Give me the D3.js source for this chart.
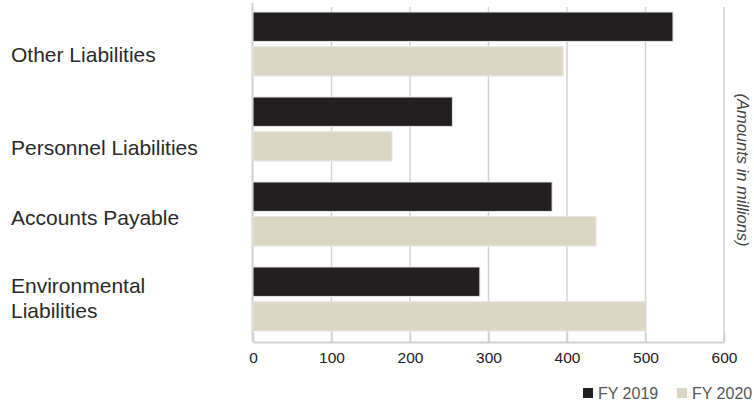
<!DOCTYPE html>
<html>
<head>
<meta charset="utf-8">
<script src="https://cdn.jsdelivr.net/npm/d3@7"></script>
<style>
  body { margin: 0; background: #fff; }
  text { font-family: "Liberation Sans", Arial, sans-serif; }
</style>
</head>
<body>
<div id="chart"></div>
<script>
// chart data
const categories = ["Other Liabilities", "Personnel Liabilities", "Accounts Payable", "Environmental Liabilities"];
const seriesNames = ["FY 2019", "FY 2020"];
const fy2019 = [535, 254, 381, 289];
const fy2020 = [395, 177, 437, 501];
const xTicks = [0, 100, 200, 300, 400, 500, 600];

const width = 754;
const height = 402;
const colors = { "FY 2019": "#231f20", "FY 2020": "#dbd5c4" };

const rows = categories.map((c, i) => ({
  category: c,
  values: [
    { series: "FY 2019", value: fy2019[i] },
    { series: "FY 2020", value: fy2020[i] },
  ],
}));

const svg = d3.select("#chart")
  .append("svg")
  .attr("width", width)
  .attr("height", height);

const x = d3.scaleLinear().domain([0, 600]).range([253, 724]);

const y0 = d3.scaleBand()
  .domain(categories)
  .range([1.5, 341.5])
  .paddingInner(0.247)
  .paddingOuter(0.1235);

const y1 = d3.scaleBand()
  .domain(seriesNames)
  .range([0, y0.bandwidth()])
  .paddingInner(0.15);

const axisY = 342;

// gridlines
svg.append("g")
  .selectAll("line")
  .data(xTicks.slice(1, -1))
  .enter()
  .append("line")
  .attr("x1", (d) => x(d))
  .attr("x2", (d) => x(d))
  .attr("y1", 7)
  .attr("y2", axisY)
  .attr("stroke", "#d2d2d4")
  .attr("stroke-width", 1.5);

// left and right frame lines
svg.append("line")
  .attr("x1", x(0) - 0.5).attr("x2", x(0) - 0.5)
  .attr("y1", 3).attr("y2", axisY)
  .attr("stroke", "#cfcfcf").attr("stroke-width", 2);
svg.append("line")
  .attr("x1", x(600)).attr("x2", x(600))
  .attr("y1", 7).attr("y2", axisY)
  .attr("stroke", "#cfcfcf").attr("stroke-width", 1.5);

// bars
const group = svg.append("g")
  .selectAll("g")
  .data(rows)
  .enter()
  .append("g")
  .attr("transform", (d) => `translate(0,${y0(d.category)})`);

group.selectAll("rect")
  .data((d) => d.values)
  .enter()
  .append("rect")
  .attr("x", x(0))
  .attr("y", (d) => y1(d.series))
  .attr("width", (d) => x(d.value) - x(0))
  .attr("height", y1.bandwidth())
  .attr("fill", (d) => colors[d.series])
  .attr("stroke", "#e6e6e6")
  .attr("stroke-width", 1);

// bottom axis
const xAxis = d3.axisBottom(x)
  .tickValues(xTicks)
  .tickSize(0)
  .tickPadding(10)
  .tickFormat(d3.format("d"));

const axisG = svg.append("g")
  .attr("transform", `translate(0,${axisY})`)
  .call(xAxis);
axisG.select(".domain").attr("stroke", "#cfcfcf").attr("stroke-width", 2);
axisG.selectAll(".tick text")
  .attr("font-size", 15.5)
  .attr("fill", "#222")
  .attr("font-family", "Liberation Sans, Arial, sans-serif");
axisG.selectAll(".tick")
  .append("line")
  .attr("y1", 0)
  .attr("y2", -9)
  .attr("stroke", "#cfcfcf")
  .attr("stroke-width", 1.5);

// category labels (split long ones onto two lines)
const labelLines = {
  "Other Liabilities": ["Other Liabilities"],
  "Personnel Liabilities": ["Personnel Liabilities"],
  "Accounts Payable": ["Accounts Payable"],
  "Environmental Liabilities": ["Environmental", "Liabilities"],
};
const labelDy = [18, 26, 11, -6];

svg.append("g")
  .selectAll("text")
  .data(categories)
  .enter()
  .append("text")
  .attr("x", 11)
  .attr("y", (d, i) => y0(d) + y0.bandwidth() / 2 + labelDy[i])
  .attr("font-size", 21)
  .attr("fill", "#2a2a2a")
  .each(function (d) {
    const t = d3.select(this);
    labelLines[d].forEach((line, j) => {
      t.append("tspan")
        .attr("x", 11)
        .attr("dy", j === 0 ? 0 : 25)
        .text(line);
    });
  });

// units note
svg.append("text")
  .attr("transform", "translate(737,170) rotate(90)")
  .attr("text-anchor", "middle")
  .attr("font-size", 16.5)
  .attr("font-style", "italic")
  .attr("fill", "#444")
  .text("(Amounts in millions)");

// legend
const legend = svg.append("g")
  .selectAll("g")
  .data(seriesNames)
  .enter()
  .append("g")
  .attr("transform", (d, i) => `translate(${583 + i * 94},388)`);

legend.append("rect")
  .attr("width", 10)
  .attr("height", 10)
  .attr("fill", (d) => colors[d]);

legend.append("text")
  .attr("x", 15)
  .attr("y", 10.5)
  .attr("font-size", 16)
  .attr("fill", "#555")
  .text((d) => d);
</script>
</body>
</html>
